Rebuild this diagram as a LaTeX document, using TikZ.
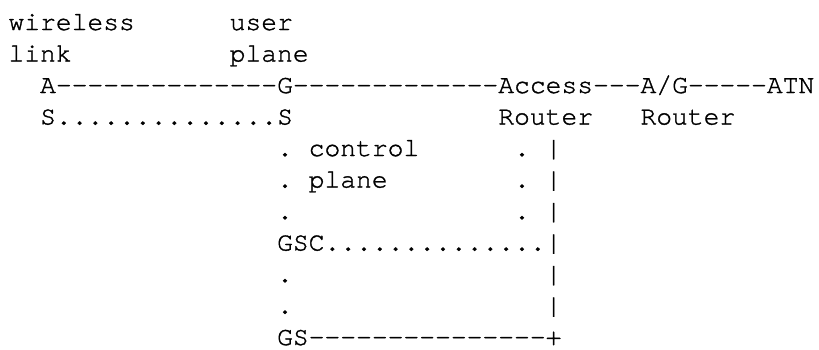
\documentclass[tikz,border=0pt]{standalone}
\usepackage{fontspec}
\setmonofont[FakeBold=1.2]{TeX Gyre Cursor}
\begin{document}
\begin{tikzpicture}[x=1pt,y=1pt,
  tt/.style={inner sep=0pt, outer sep=0pt, anchor=base west,
    font=\ttfamily\fontsize{26.33pt}{31.5pt}\selectfont}]
\useasboundingbox (0,0) rectangle (819,-349);
\newcommand\txt[4]{\node[tt] (#1) at ({8.5+#2*15.8},{-30-#3*31.5}) {#4};}
% row 0-1
\txt{wl}{0}{0}{wireless}
\txt{up}{14}{0}{user}
\txt{lk}{0}{1}{link}
\txt{pl}{14}{1}{plane}
% row 2
\txt{as}{2}{2}{A}
\txt{d1}{3}{2}{--------------}
\txt{gw}{17}{2}{G}
\txt{d2}{18}{2}{-------------}
\txt{ac}{31}{2}{Access}
\txt{d3}{37}{2}{---}
\txt{ag}{40}{2}{A/G}
\txt{d4}{43}{2}{-----}
\txt{atn}{48}{2}{ATN}
% row 3
\txt{as2}{2}{3}{S}
\txt{o1}{3}{3}{..............}
\txt{gs2}{17}{3}{S}
\txt{r1}{31}{3}{Router}
\txt{r2}{40}{3}{Router}
% row 4-6
\txt{v4}{17}{4}{.}
\txt{ctl}{19}{4}{control}
\txt{w4}{32}{4}{.}
\txt{b4}{34}{4}{|}
\txt{v5}{17}{5}{.}
\txt{cpl}{19}{5}{plane}
\txt{w5}{32}{5}{.}
\txt{b5}{34}{5}{|}
\txt{v6}{17}{6}{.}
\txt{w6}{32}{6}{.}
\txt{b6}{34}{6}{|}
% row 7
\txt{gsc}{17}{7}{GSC}
\txt{o2}{20}{7}{..............}
\txt{b7}{34}{7}{|}
% row 8-9
\txt{v8}{17}{8}{.}
\txt{b8}{34}{8}{|}
\txt{v9}{17}{9}{.}
\txt{b9}{34}{9}{|}
% row 10
\txt{gs}{17}{10}{GS}
\txt{d5}{19}{10}{---------------}
\txt{pl10}{34}{10}{+}
\end{tikzpicture}
\end{document}
